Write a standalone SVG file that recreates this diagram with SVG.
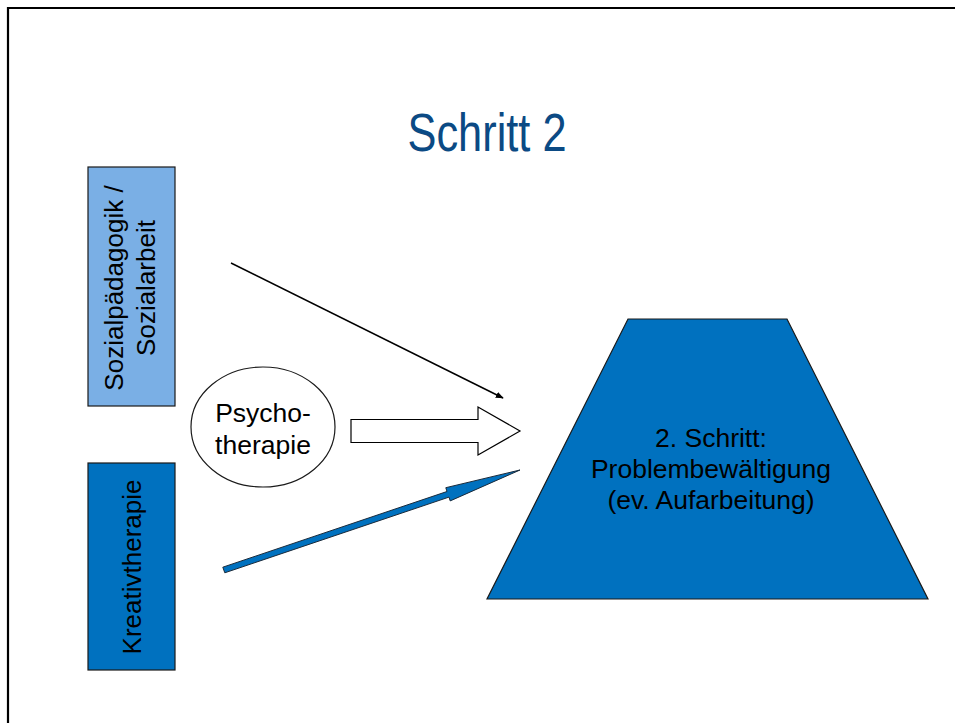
<svg xmlns="http://www.w3.org/2000/svg" width="955" height="723" viewBox="0 0 955 723">
<style>
text{font-family:"Liberation Sans",Arial,sans-serif;fill:#000}
.lbl{font-size:26.5px;text-anchor:middle}
.shape{stroke:#1a1a1a;stroke-width:1.2}
</style>
<defs>
<marker id="ah" viewBox="0 0 10 10" refX="9" refY="5" markerWidth="8" markerHeight="8" markerUnits="userSpaceOnUse" orient="auto">
<path d="M0,1 L10,5 L0,9 z" fill="#000"/>
</marker>
</defs>
<rect width="955" height="723" fill="#fff"/>
<path d="M8,723 L8,8 L955,8" fill="none" stroke="#000" stroke-width="2.2"/>
<text x="487" y="151" font-size="53" text-anchor="middle" style="fill:#0b4a84" textLength="159" lengthAdjust="spacingAndGlyphs">Schritt 2</text>
<g id="sozial">
<rect class="shape" x="88" y="167" width="87" height="239" fill="#7aafe5"/>
<text class="lbl" transform="translate(123,288) rotate(-90)" style="font-size:26px"><tspan x="0" y="0">Sozialpädagogik /</tspan><tspan x="0" y="32">Sozialarbeit</tspan></text>
</g>
<g id="kreativ">
<rect class="shape" x="88" y="463" width="87" height="207" fill="#0071bf"/>
<text class="lbl" transform="translate(141,567) rotate(-90)" style="font-size:26px">Kreativtherapie</text>
</g>
<g id="psycho">
<ellipse class="shape" cx="263" cy="427" rx="72" ry="60" fill="#fff"/>
<text class="lbl" x="263" y="422">Psycho-</text>
<text class="lbl" x="263" y="454">therapie</text>
</g>
<g id="schritt">
<polygon class="shape" points="628,319 787,319 928,599 487,599" fill="#0071bf"/>
<text class="lbl" x="711" y="447">2. Schritt:</text>
<text class="lbl" x="711" y="478">Problembewältigung</text>
<text class="lbl" x="711" y="509">(ev. Aufarbeitung)</text>
</g>
<g id="connectors">
<line x1="231" y1="263" x2="503" y2="398" stroke="#000" stroke-width="1.5" marker-end="url(#ah)"/>
<polygon points="351,419.5 478,419.5 478,407 520,431 478,455 478,442.5 351,442.5" fill="#fff" stroke="#000" stroke-width="1.2"/>
<polygon points="222.8,567.2 447,491.5 445.8,487.7 520,470 450.2,500.9 449,497.1 224.8,572.8" fill="#0071bf" stroke="#1a2a3a" stroke-width="1"/>
</g>
</svg>
